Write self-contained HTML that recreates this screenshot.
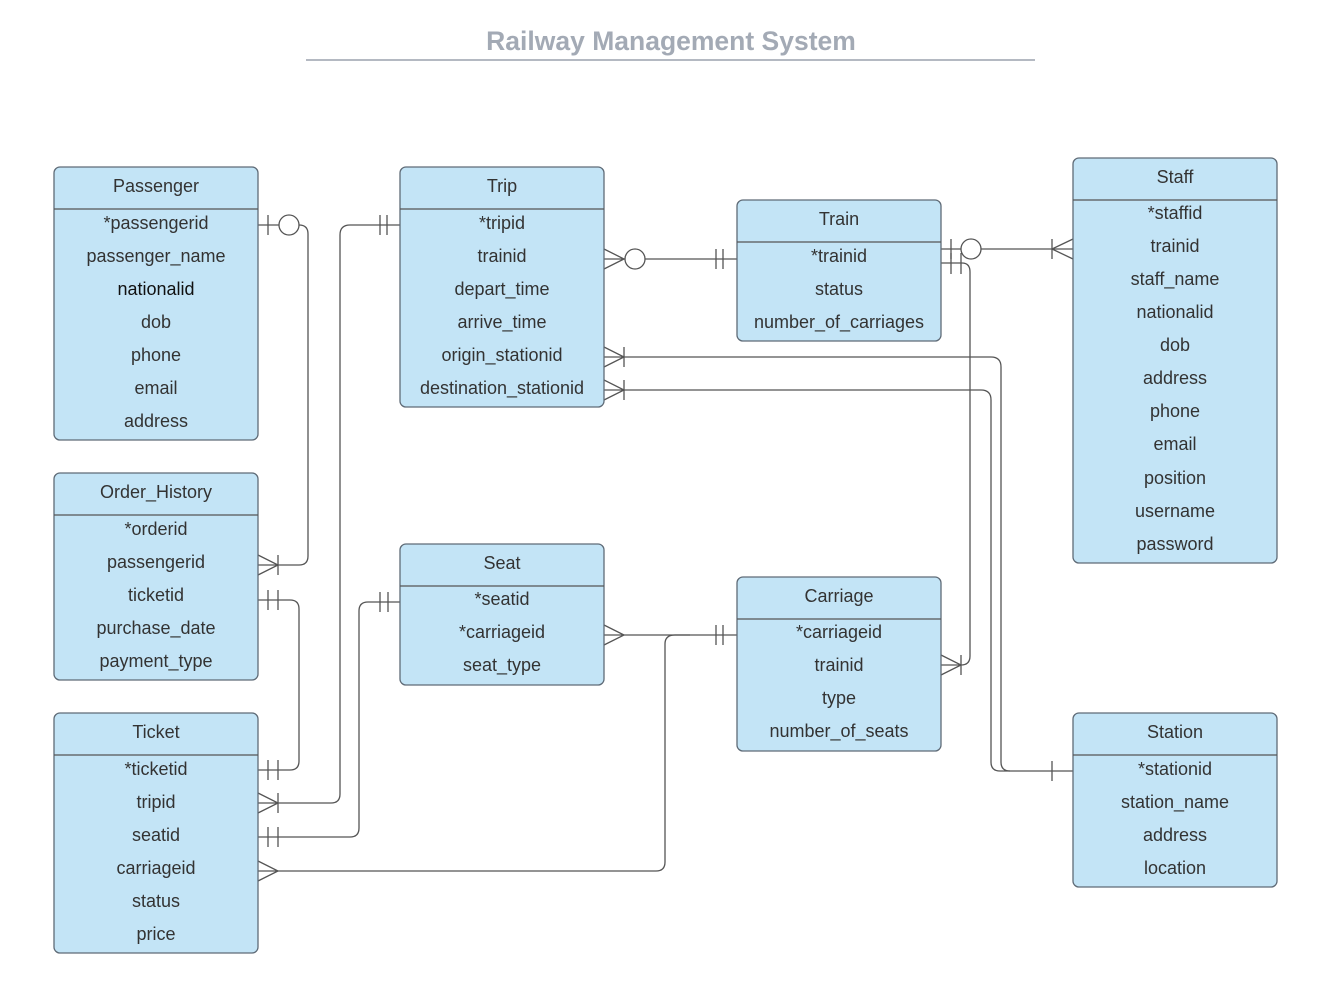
<!DOCTYPE html>
<html><head><meta charset="utf-8"><style>
body{margin:0;background:#fff}
svg{display:block}
text{font-family:"Liberation Sans",sans-serif;font-size:18px;fill:#333;text-anchor:middle}
.b{fill:#c3e4f6;stroke:#5f6b77;stroke-width:1.3}
.l{fill:none;stroke:#555;stroke-width:1.3}
</style></head><body>
<svg width="1317" height="985" viewBox="0 0 1317 985">
<text x="671" y="50" style="font-size:26.5px;font-weight:bold;fill:#a3aab5">Railway Management System</text>
<line x1="306" y1="60" x2="1035" y2="60" stroke="#b4b9c2" stroke-width="2"/>

<g class="l">
<path d="M258 225H279M299 225Q308 225 308 234V556Q308 565 299 565H258"/>
<line x1="268" y1="215" x2="268" y2="235"/><circle cx="289" cy="225" r="10" fill="#fff"/>
<path d="M258 555L278 565L258 575"/><line x1="278" y1="555" x2="278" y2="575"/>
<path d="M400 225H350Q340 225 340 235V794Q340 803 331 803H258"/>
<line x1="380" y1="215" x2="380" y2="235"/><line x1="387" y1="215" x2="387" y2="235"/>
<path d="M258 793L278 803L258 813"/><line x1="278" y1="793" x2="278" y2="813"/>
<path d="M604 259H625M645 259H737"/>
<path d="M604 249L624 259L604 269"/><circle cx="635" cy="259" r="10" fill="#fff"/>
<line x1="716" y1="249" x2="716" y2="269"/><line x1="723" y1="249" x2="723" y2="269"/>
<path d="M941 249H961M981 249H1073"/>
<line x1="951" y1="239" x2="951" y2="259"/><circle cx="971" cy="249" r="10" fill="#fff"/>
<path d="M1073 239L1052 249L1073 259"/><line x1="1052" y1="239" x2="1052" y2="259"/>
<path d="M941 263H962Q970 263 970 272V656Q970 665 961 665H941"/>
<line x1="951" y1="253" x2="951" y2="274"/><line x1="961" y1="253" x2="961" y2="274"/>
<path d="M941 655L961 665L941 675"/><line x1="961" y1="655" x2="961" y2="675"/>
<path d="M604 357H991Q1001 357 1001 367V762Q1001 771 1010 771H1073"/>
<path d="M604 390H981Q991 390 991 400V762Q991 771 1000 771H1010"/>
<path d="M604 347L624 357L604 367"/><line x1="624" y1="347" x2="624" y2="367"/>
<path d="M604 380L624 390L604 400"/><line x1="624" y1="380" x2="624" y2="400"/>
<line x1="1052" y1="761" x2="1052" y2="781"/>
<path d="M258 600H290Q299 600 299 609V761Q299 770 290 770H258"/>
<line x1="268" y1="590" x2="268" y2="610"/><line x1="278" y1="590" x2="278" y2="610"/>
<line x1="268" y1="760" x2="268" y2="780"/><line x1="278" y1="760" x2="278" y2="780"/>
<path d="M400 602H368Q359 602 359 611V828Q359 837 350 837H258"/>
<line x1="380" y1="592" x2="380" y2="612"/><line x1="388" y1="592" x2="388" y2="612"/>
<line x1="268" y1="827" x2="268" y2="847"/><line x1="278" y1="827" x2="278" y2="847"/>
<path d="M604 635H737"/>
<path d="M604 625L624 635L604 645"/>
<line x1="716" y1="625" x2="716" y2="645"/><line x1="723" y1="625" x2="723" y2="645"/>
<path d="M258 871H656Q665 871 665 862V644Q665 635 675 635H690"/>
<path d="M258 861L278 871L258 881"/>
</g>

<g>
<rect class="b" x="54" y="167" width="204" height="273" rx="6"/><line class="l" x1="54" y1="209" x2="258" y2="209"/>
<text x="156" y="192">Passenger</text>
<text x="156" y="229">*passengerid</text><text x="156" y="262">passenger_name</text><text x="156" y="295" style="fill:#111">nationalid</text><text x="156" y="328">dob</text><text x="156" y="361">phone</text><text x="156" y="394">email</text><text x="156" y="427">address</text>

<rect class="b" x="400" y="167" width="204" height="240" rx="6"/><line class="l" x1="400" y1="209" x2="604" y2="209"/>
<text x="502" y="192">Trip</text>
<text x="502" y="229">*tripid</text><text x="502" y="262">trainid</text><text x="502" y="295">depart_time</text><text x="502" y="328">arrive_time</text><text x="502" y="361">origin_stationid</text><text x="502" y="394">destination_stationid</text>

<rect class="b" x="737" y="200" width="204" height="141" rx="6"/><line class="l" x1="737" y1="242" x2="941" y2="242"/>
<text x="839" y="225">Train</text>
<text x="839" y="262">*trainid</text><text x="839" y="295">status</text><text x="839" y="328">number_of_carriages</text>

<rect class="b" x="1073" y="158" width="204" height="405" rx="6"/><line class="l" x1="1073" y1="200" x2="1277" y2="200"/>
<text x="1175" y="183">Staff</text>
<text x="1175" y="219">*staffid</text><text x="1175" y="252">trainid</text><text x="1175" y="285">staff_name</text><text x="1175" y="318">nationalid</text><text x="1175" y="351">dob</text><text x="1175" y="384">address</text><text x="1175" y="417">phone</text><text x="1175" y="450">email</text><text x="1175" y="484">position</text><text x="1175" y="517">username</text><text x="1175" y="550">password</text>

<rect class="b" x="54" y="473" width="204" height="207" rx="6"/><line class="l" x1="54" y1="515" x2="258" y2="515"/>
<text x="156" y="498">Order_History</text>
<text x="156" y="535">*orderid</text><text x="156" y="568">passengerid</text><text x="156" y="601">ticketid</text><text x="156" y="634">purchase_date</text><text x="156" y="667">payment_type</text>

<rect class="b" x="400" y="544" width="204" height="141" rx="6"/><line class="l" x1="400" y1="586" x2="604" y2="586"/>
<text x="502" y="569">Seat</text>
<text x="502" y="605">*seatid</text><text x="502" y="638">*carriageid</text><text x="502" y="671">seat_type</text>

<rect class="b" x="737" y="577" width="204" height="174" rx="6"/><line class="l" x1="737" y1="619" x2="941" y2="619"/>
<text x="839" y="602">Carriage</text>
<text x="839" y="638">*carriageid</text><text x="839" y="671">trainid</text><text x="839" y="704">type</text><text x="839" y="737">number_of_seats</text>

<rect class="b" x="54" y="713" width="204" height="240" rx="6"/><line class="l" x1="54" y1="755" x2="258" y2="755"/>
<text x="156" y="738">Ticket</text>
<text x="156" y="775">*ticketid</text><text x="156" y="808">tripid</text><text x="156" y="841">seatid</text><text x="156" y="874">carriageid</text><text x="156" y="907">status</text><text x="156" y="940">price</text>

<rect class="b" x="1073" y="713" width="204" height="174" rx="6"/><line class="l" x1="1073" y1="755" x2="1277" y2="755"/>
<text x="1175" y="738">Station</text>
<text x="1175" y="775">*stationid</text><text x="1175" y="808">station_name</text><text x="1175" y="841">address</text><text x="1175" y="874">location</text>
</g>
</svg>
</body></html>
